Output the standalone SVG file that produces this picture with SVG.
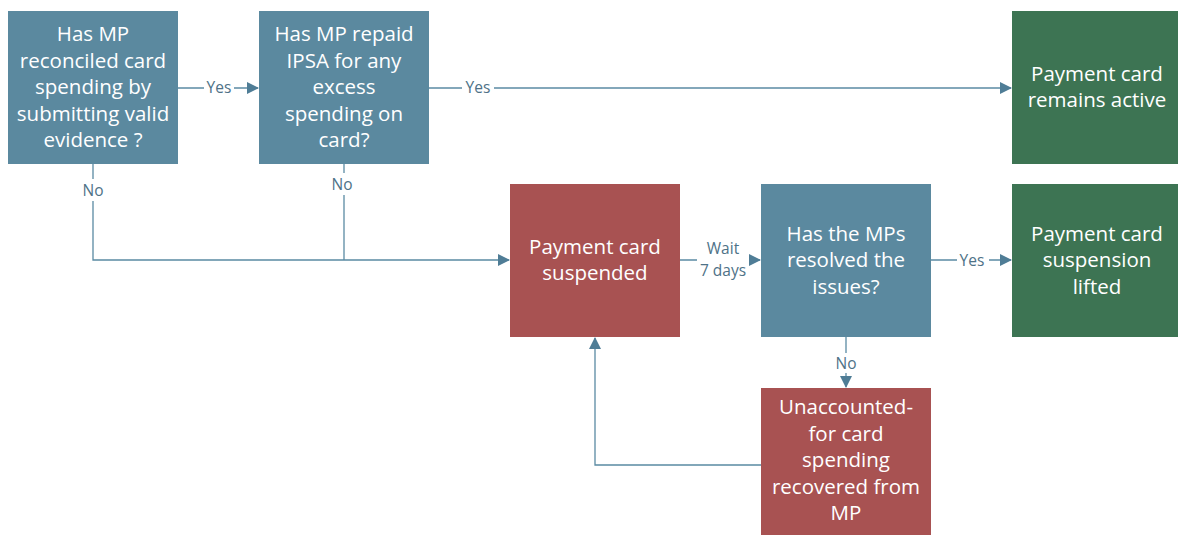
<svg xmlns="http://www.w3.org/2000/svg" width="1178" height="535" viewBox="0 0 1178 535">
<defs>
<marker id="arr" markerWidth="12" markerHeight="12" refX="11" refY="6" orient="auto" markerUnits="userSpaceOnUse">
<path d="M0,0 L12,6 L0,12 Z" fill="#4F7D96"/>
</marker>
<style>
.blue{fill:#5B899F}
.red{fill:#A85252}
.green{fill:#3D7453}
.nt{font-family:"Open Sans","Noto Sans",sans-serif;font-size:20.5px;fill:#FFFFFF;text-anchor:middle}
.ln{fill:none;stroke:#5A8AA3;stroke-width:1.3}
.lb{font-family:"Open Sans","Noto Sans",sans-serif;font-size:15.5px;fill:#4E7287;text-anchor:middle}
.bg{fill:#FFFFFF}
</style>
</defs>
<rect width="1178" height="535" fill="#FFFFFF"/>
<g id="connectors">
<line class="ln" x1="178" y1="88" x2="258" y2="88" marker-end="url(#arr)"/>
<rect class="bg" x="204" y="79" width="30" height="18"/>
<text class="lb" x="219" y="93">Yes</text>
<line class="ln" x1="429" y1="88" x2="1011" y2="88" marker-end="url(#arr)"/>
<rect class="bg" x="462" y="79" width="32" height="18"/>
<text class="lb" x="478" y="93">Yes</text>
<polyline class="ln" points="93,164 93,260 509,260" marker-end="url(#arr)"/>
<rect class="bg" x="79" y="179" width="28" height="22"/>
<text class="lb" x="93" y="196">No</text>
<line class="ln" x1="344" y1="164" x2="344" y2="260"/>
<rect class="bg" x="330" y="173" width="28" height="22"/>
<text class="lb" x="342" y="190">No</text>
<line class="ln" x1="680" y1="260" x2="760" y2="260" marker-end="url(#arr)"/>
<rect class="bg" x="697" y="238" width="52" height="44"/>
<text class="lb" x="723" y="254">Wait</text>
<text class="lb" x="723" y="276">7 days</text>
<line class="ln" x1="931" y1="260" x2="1011" y2="260" marker-end="url(#arr)"/>
<rect class="bg" x="957" y="251" width="32" height="18"/>
<text class="lb" x="972" y="266">Yes</text>
<line class="ln" x1="846" y1="337" x2="846" y2="387" marker-end="url(#arr)"/>
<rect class="bg" x="832" y="353" width="28" height="20"/>
<text class="lb" x="846" y="369">No</text>
<polyline class="ln" points="761,465 595,465 595,338" marker-end="url(#arr)"/>
</g>
<g id="n1">
<rect class="blue" x="8" y="11" width="170" height="153"/>
<text class="nt"><tspan x="93" y="41">Has MP</tspan><tspan x="93" y="68">reconciled card</tspan><tspan x="93" y="94">spending by</tspan><tspan x="93" y="121">submitting valid</tspan><tspan x="93" y="147">evidence ?</tspan></text>
</g>
<g id="n2">
<rect class="blue" x="259" y="11" width="170" height="153"/>
<text class="nt"><tspan x="344" y="41">Has MP repaid</tspan><tspan x="344" y="68">IPSA for any</tspan><tspan x="344" y="94">excess</tspan><tspan x="344" y="121">spending on</tspan><tspan x="344" y="147">card?</tspan></text>
</g>
<g id="n3">
<rect class="green" x="1012" y="11" width="166" height="153"/>
<text class="nt"><tspan x="1097" y="81">Payment card</tspan><tspan x="1097" y="107">remains active</tspan></text>
</g>
<g id="n4">
<rect class="red" x="510" y="184" width="170" height="153"/>
<text class="nt"><tspan x="595" y="254">Payment card</tspan><tspan x="595" y="280">suspended</tspan></text>
</g>
<g id="n5">
<rect class="blue" x="761" y="184" width="170" height="153"/>
<text class="nt"><tspan x="846" y="241">Has the MPs</tspan><tspan x="846" y="267">resolved the</tspan><tspan x="846" y="294">issues?</tspan></text>
</g>
<g id="n6">
<rect class="green" x="1012" y="184" width="166" height="153"/>
<text class="nt"><tspan x="1097" y="241">Payment card</tspan><tspan x="1097" y="267">suspension</tspan><tspan x="1097" y="294">lifted</tspan></text>
</g>
<g id="n7">
<rect class="red" x="761" y="388" width="170" height="147"/>
<text class="nt"><tspan x="846" y="414">Unaccounted-</tspan><tspan x="846" y="441">for card</tspan><tspan x="846" y="467">spending</tspan><tspan x="846" y="494">recovered from</tspan><tspan x="846" y="520">MP</tspan></text>
</g>
</svg>
